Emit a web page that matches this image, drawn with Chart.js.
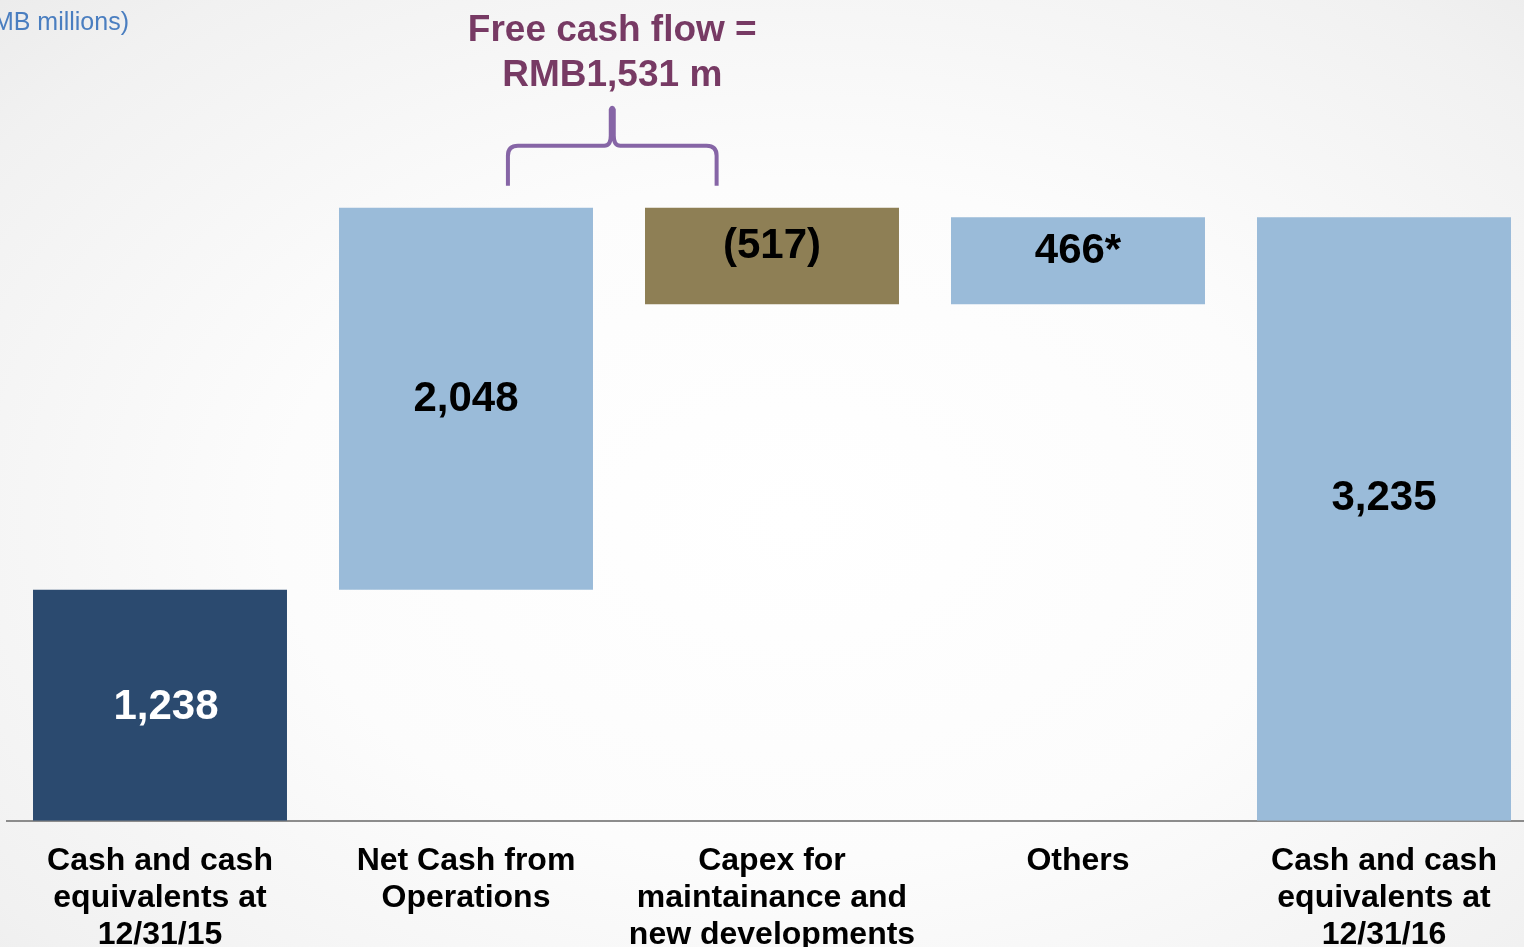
<!DOCTYPE html>
<html>
<head>
<meta charset="utf-8">
<title>Cash flow bridge 2016</title>
<script src="https://cdn.jsdelivr.net/npm/chart.js@4"></script>
<style>
  html, body {
    margin: 0;
    padding: 0;
    width: 1524px;
    height: 947px;
    overflow: hidden;
    background: radial-gradient(ellipse 75% 80% at 52% 55%, #ffffff 0%, #fcfcfc 45%, #f1f1f1 85%, #ebebeb 100%);
  }
  #bridge {
    position: absolute;
    left: 0;
    top: 0;
  }
</style>
</head>
<body>
<canvas id="bridge" width="1540" height="976"></canvas>
<script>
// RMB millions
const categories = [
    ['Cash and cash', 'equivalents at', '12/31/15'],
    ['Net Cash from', 'Operations'],
    ['Capex for', 'maintainance and', 'new developments'],
    ['Others'],
    ['Cash and cash', 'equivalents at', '12/31/16']
];
const steps = [1238, 2048, -517, 466, 3235];
const stepKinds = ['total', 'delta', 'delta', 'delta', 'total'];
const valueLabels = ['1,238', '2,048', '(517)', '466*', '3,235'];
const barColors = ['#2b4a6f', '#9abbd9', '#8e7f55', '#9abbd9', '#9abbd9'];
const labelColors = ['#ffffff', '#000000', '#000000', '#000000', '#000000'];

const FONT = "'Liberation Sans', Arial, sans-serif";

// turn the steps into floating [from, to] ranges
function buildRanges() {
    let running = 0;
    return steps.map((v, i) => {
        if (stepKinds[i] === 'total') {
            running = v;
            return [0, v];
        }
        const from = running;
        running += v;
        return [Math.min(from, running), Math.max(from, running)];
    });
}

const valueLabelPlugin = {
    id: 'valueLabels',
    afterDatasetsDraw(chart, args, opts) {
        const ctx = chart.ctx;
        const meta = chart.getDatasetMeta(0);
        ctx.save();
        ctx.font = `bold ${opts.size}px ${FONT}`;
        ctx.textAlign = 'center';
        ctx.textBaseline = 'middle';
        meta.data.forEach((bar, i) => {
            const mid = (bar.y + bar.base) / 2;
            const shift = opts.shifts[i] || [0, 0];
            ctx.fillStyle = labelColors[i];
            ctx.fillText(valueLabels[i], bar.x + shift[0], mid + shift[1]);
        });
        ctx.restore();
    }
};

// brace over operations + capex with the free cash flow note
const braceNotePlugin = {
    id: 'braceNote',
    afterDraw(chart) {
        const ctx = chart.ctx;
        const x = chart.scales.x;
        const meta = chart.getDatasetMeta(0);
        const catW = x.getPixelForValue(1) - x.getPixelForValue(0);
        const left = x.getPixelForValue(1) + catW * 0.137;
        const right = x.getPixelForValue(2) - catW * 0.181;
        const tip = (left + right) / 2;
        const bottom = meta.data[1].y - 22;
        const bar = bottom - 40;
        const top = bar - 40;
        const r = 10;

        ctx.save();
        ctx.strokeStyle = '#8665a6';
        ctx.lineWidth = 4;
        ctx.lineJoin = 'round';
        ctx.lineCap = 'butt';
        ctx.beginPath();
        ctx.moveTo(left, bottom);
        ctx.lineTo(left, bar + r);
        ctx.quadraticCurveTo(left, bar, left + r, bar);
        ctx.lineTo(tip - 8, bar);
        ctx.quadraticCurveTo(tip - 1.5, bar, tip - 1.5, bar - 10);
        ctx.lineTo(tip - 1.5, top + 4);
        ctx.quadraticCurveTo(tip, top, tip + 1.5, top + 4);
        ctx.lineTo(tip + 1.5, bar - 10);
        ctx.quadraticCurveTo(tip + 1.5, bar, tip + 8, bar);
        ctx.lineTo(right - r, bar);
        ctx.quadraticCurveTo(right, bar, right, bar + r);
        ctx.lineTo(right, bottom);
        ctx.stroke();

        ctx.fillStyle = '#773a64';
        ctx.font = `bold 37px ${FONT}`;
        ctx.textAlign = 'center';
        ctx.textBaseline = 'middle';
        ctx.fillText('Free cash flow =', tip, 31);
        ctx.fillText('RMB1,531 m', tip, 76);

        // unit note, partly off the left edge
        ctx.fillStyle = '#4a7ec0';
        ctx.font = `25px ${FONT}`;
        ctx.textAlign = 'right';
        ctx.fillText('(RMB millions)', 129, 23);
        ctx.restore();
    }
};

new Chart(document.getElementById('bridge'), {
    type: 'bar',
    data: {
        labels: categories,
        datasets: [{
            data: buildRanges(),
            backgroundColor: barColors,
            borderWidth: 0,
            borderSkipped: false,
            barPercentage: 0.83,
            categoryPercentage: 1.0
        }]
    },
    options: {
        responsive: false,
        animation: false,
        layout: {
            padding: { left: 7, right: 3, top: 0, bottom: 0 }
        },
        scales: {
            x: {
                grid: { display: false, drawTicks: false },
                border: { display: true, color: '#8c8c8c', width: 2 },
                ticks: {
                    color: '#000000',
                    padding: 22,
                    maxRotation: 0,
                    autoSkip: false,
                    font: { family: FONT, size: 32, weight: 'bold', lineHeight: 1.16 }
                }
            },
            y: {
                display: false,
                min: 0,
                max: 4400
            }
        },
        plugins: {
            legend: { display: false },
            tooltip: { enabled: false },
            valueLabels: {
                size: 42,
                shifts: [[6, 2], [0, 1], [0, -10], [0, -9], [0, -21]]
            }
        }
    },
    plugins: [valueLabelPlugin, braceNotePlugin]
});
</script>
</body>
</html>
